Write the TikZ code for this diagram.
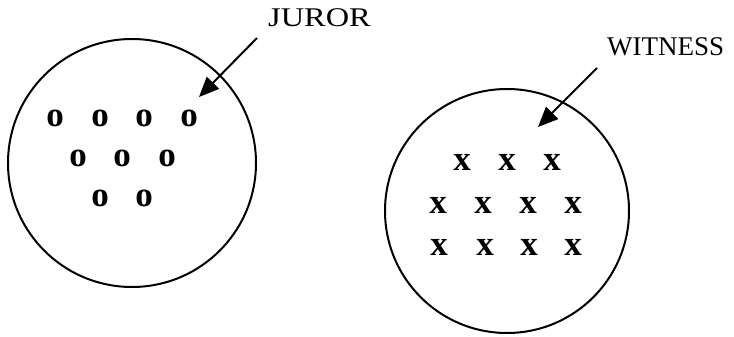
\documentclass[tikz,border=0pt]{standalone}
\usepackage{fontspec}
\setmainfont{Liberation Serif}
\usetikzlibrary{arrows.meta}
\tikzset{
  set/.style={draw, circle, line width=2pt, inner sep=0pt},
  label text/.style={inner sep=0pt, font=\fontsize{27}{29}\selectfont},
  juror mark/.style={inner sep=0pt, font=\fontsize{35}{35}\selectfont\bfseries},
  witness mark/.style={inner sep=0pt, font=\fontsize{35}{35}\selectfont\bfseries},
  pointer/.style={line width=2pt, -{Triangle[length=20pt,width=17pt]}}
}
\begin{document}
\begin{tikzpicture}[x=1pt,y=-1pt]
\useasboundingbox (0,0) rectangle (734,337);

% the two groups
\node[set, minimum size=248pt] (jurors) at (132,163) {};
\node[set, minimum size=244pt] (witnesses) at (507,211) {};

% labels
\node[label text, anchor=base west] (juror) at (268,27) {\scalebox{1.2}[1]{JUROR}};
\node[label text, anchor=base west] (witness) at (607,56) {WITNESS};

% pointers
\coordinate (jstart) at (257,38);
\coordinate (jtip) at (199,97);
\coordinate (wstart) at (597,68);
\coordinate (wtip) at (538,127);
\draw[pointer] (jstart) -- (jtip);
\draw[pointer] (wstart) -- (wtip);

% jurors
\foreach \px/\py [count=\i] in {55/118,100/118,144/118,189/118,
                                78/158,122/158,167/158,
                                100/198,144/198}
  \node[juror mark] (o\i) at (\px,\py) {o};

% witnesses
\foreach \px/\py [count=\i] in {462/162,507/162,552/162,
                                438/205,483/205,528/205,573/205,
                                439/247,485/247,529/247,573/247}
  \node[witness mark] (x\i) at (\px,\py) {x};
\end{tikzpicture}
\end{document}
